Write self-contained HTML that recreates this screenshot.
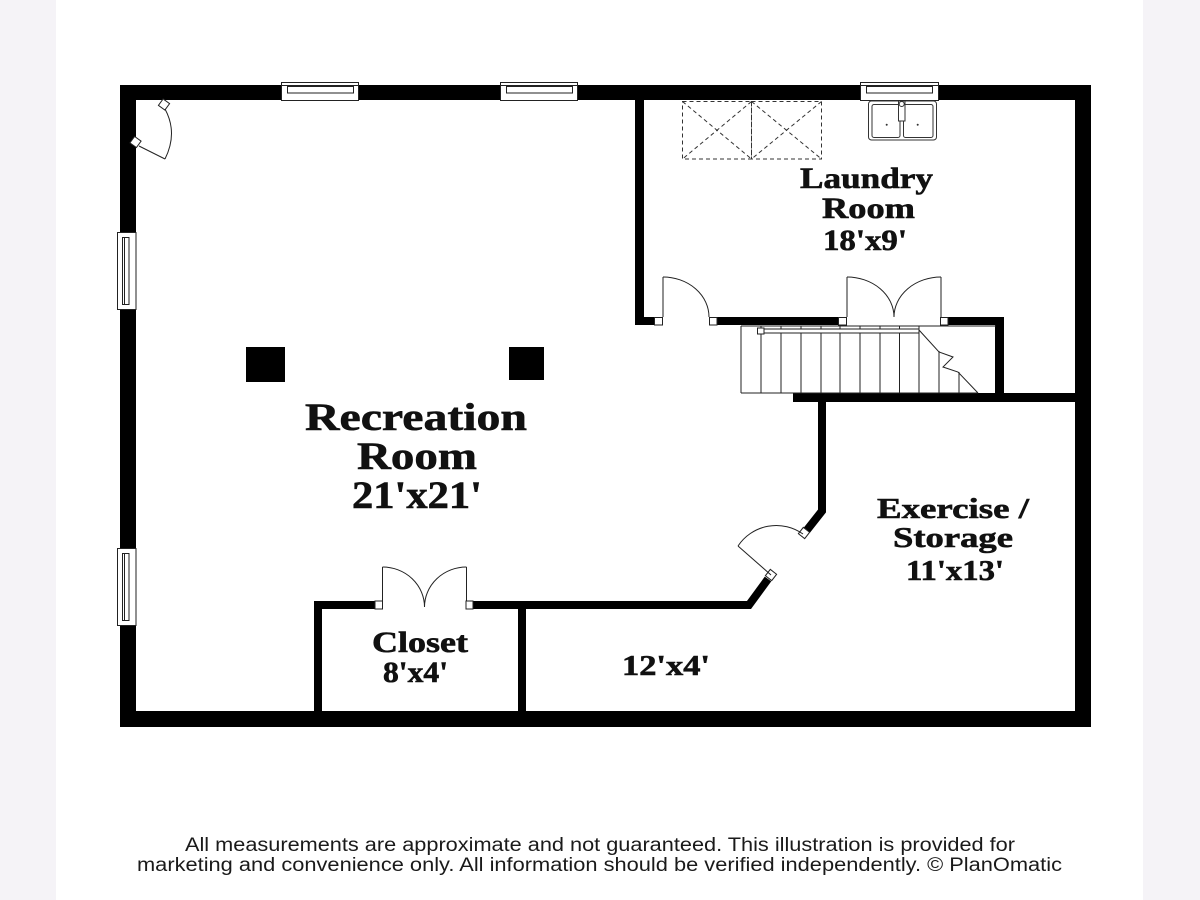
<!DOCTYPE html>
<html><head><meta charset="utf-8"><style>
html,body{margin:0;padding:0;width:1200px;height:900px;overflow:hidden;background:#fff}
svg{display:block}
</style></head><body>
<svg width="1200" height="900" viewBox="0 0 1200 900" xmlns="http://www.w3.org/2000/svg">
<rect x="0" y="0" width="1200" height="900" fill="#fff"/>
<rect x="0" y="0" width="56" height="900" fill="#f5f3f7"/>
<rect x="1143" y="0" width="57" height="900" fill="#f5f3f7"/>

<!-- solid walls -->
<g fill="#000">
<rect x="120" y="85" width="971" height="15"/>
<rect x="120" y="85" width="16" height="642"/>
<rect x="1075" y="85" width="16" height="642"/>
<rect x="120" y="711" width="971" height="16"/>
<rect x="635" y="100" width="9" height="225"/>
<rect x="635" y="317" width="19" height="8"/>
<rect x="717" y="317" width="121" height="8"/>
<rect x="948" y="317" width="56" height="8"/>
<rect x="995" y="317" width="9" height="85"/>
<rect x="793" y="393" width="282" height="9"/>
</g>
<g fill="none" stroke="#000" stroke-width="8" stroke-linejoin="miter">
<polyline points="822,398 822,511 807,530"/>
<polyline points="768,579 749,605 473,605"/>
<polyline points="375,605 318,605 318,715"/>
<line x1="522" y1="605" x2="522" y2="715"/>
</g>

<!-- windows -->
<g fill="#fff" stroke="#222" stroke-width="1">
<rect x="281.5" y="82.5" width="77" height="18"/>
<line x1="281.5" y1="85.5" x2="358.5" y2="85.5"/>
<rect x="287.5" y="86.5" width="66" height="6.5"/>
<rect x="500.5" y="82.5" width="77" height="18"/>
<line x1="500.5" y1="85.5" x2="577.5" y2="85.5"/>
<rect x="506.5" y="86.5" width="66" height="6.5"/>
<rect x="860.5" y="82.5" width="78" height="18"/>
<line x1="860.5" y1="85.5" x2="938.5" y2="85.5"/>
<rect x="866.5" y="86.5" width="66" height="6.5"/>

<rect x="117.5" y="232.5" width="18.5" height="77"/>
<rect x="122.5" y="237.5" width="6.5" height="67"/>
<line x1="124.5" y1="237.5" x2="124.5" y2="304.5"/>
<rect x="117.5" y="548.5" width="18.5" height="77"/>
<rect x="122.5" y="553.5" width="6.5" height="67"/>
<line x1="124.5" y1="553.5" x2="124.5" y2="620.5"/>
</g>

<!-- jambs -->
<g fill="#fff" stroke="#222" stroke-width="1">
<rect x="654.5" y="317.5" width="8" height="7.5"/>
<rect x="709.5" y="317.5" width="7.5" height="7.5"/>
<rect x="838.5" y="317.5" width="8" height="7.5"/>
<rect x="940.5" y="317.5" width="7.5" height="7.5"/>
<rect x="375" y="601" width="7.5" height="8"/>
<rect x="466" y="601" width="7" height="8"/>
<rect x="-4" y="-4" width="8" height="8" transform="translate(804,533) rotate(-52)"/>
<rect x="-4" y="-4" width="8" height="8" transform="translate(771,575) rotate(-52)"/>
<rect x="-4" y="-4" width="8" height="8" transform="translate(164,104.5) rotate(36)"/>
<rect x="-4" y="-4" width="8" height="8" transform="translate(135.5,142) rotate(36)"/>
</g>

<!-- doors -->
<g fill="none" stroke="#222" stroke-width="1">
<line x1="663" y1="277" x2="663" y2="317"/>
<path d="M663 277 A46 40 0 0 1 709 317"/>
<line x1="847" y1="277" x2="847" y2="317"/>
<path d="M847 277 A47 40 0 0 1 894 317"/>
<line x1="941" y1="277" x2="941" y2="317"/>
<path d="M941 277 A47 40 0 0 0 894 317"/>
<line x1="382.5" y1="567" x2="382.5" y2="601"/>
<path d="M382.5 567 A42 40 0 0 1 424.5 607"/>
<line x1="466.5" y1="567" x2="466.5" y2="601"/>
<path d="M466.5 567 A42 40 0 0 0 424.5 607"/>
<line x1="771" y1="575" x2="738" y2="546"/>
<path d="M738 546 A46 46 0 0 1 803 534"/>
<line x1="139" y1="146" x2="165" y2="159"/>
<path d="M165 159 Q178 133 165 109"/>
</g>

<!-- washer / dryer -->
<g fill="none" stroke="#333" stroke-width="1" stroke-dasharray="4 3">
<rect x="682.5" y="101.5" width="69" height="57.5"/>
<rect x="751.5" y="101.5" width="70" height="57.5"/>
<line x1="682.5" y1="101.5" x2="751.5" y2="159"/>
<line x1="751.5" y1="101.5" x2="682.5" y2="159"/>
<line x1="751.5" y1="101.5" x2="821.5" y2="159"/>
<line x1="821.5" y1="101.5" x2="751.5" y2="159"/>
</g>

<!-- sink -->
<g fill="#fff" stroke="#333" stroke-width="1">
<rect x="868.5" y="101" width="68" height="39" rx="3"/>
<rect x="872" y="104.5" width="28" height="33" rx="2"/>
<rect x="903.5" y="104.5" width="29.5" height="33" rx="2"/>
<rect x="898.5" y="101" width="6.5" height="20"/>
<circle cx="901.7" cy="104" r="2.5"/>
</g>
<circle cx="886.7" cy="124.7" r="1" fill="#333"/>
<circle cx="917.7" cy="124.7" r="1" fill="#333"/>

<!-- stairs -->
<g fill="none" stroke="#222" stroke-width="1">
<line x1="741" y1="326" x2="996" y2="326"/>
<line x1="741" y1="326" x2="741" y2="393"/>
<line x1="741" y1="393" x2="978" y2="393"/>
<line x1="761" y1="326" x2="761" y2="393"/>
<line x1="781" y1="326" x2="781" y2="393"/>
<line x1="801" y1="326" x2="801" y2="393"/>
<line x1="821" y1="326" x2="821" y2="393"/>
<line x1="840" y1="326" x2="840" y2="393"/>
<line x1="860" y1="326" x2="860" y2="393"/>
<line x1="880" y1="326" x2="880" y2="393"/>
<line x1="899.5" y1="326" x2="899.5" y2="393"/>
<line x1="919" y1="326" x2="919" y2="393"/>
<line x1="939" y1="351" x2="939" y2="393"/>
<line x1="959" y1="372" x2="959" y2="393"/>
<polyline points="919,330 939,352 953,357 943,367 958,372 978,393"/>
<rect x="758.5" y="329" width="160.5" height="4" fill="#fff"/>
<rect x="757.5" y="328" width="6.5" height="6" fill="#fff"/>
</g>

<!-- pillars -->
<rect x="246" y="347" width="39" height="35" fill="#000"/>
<rect x="509" y="347" width="35" height="33" fill="#000"/>

<!-- room labels -->
<g font-family="'Liberation Serif', 'DejaVu Serif', serif" font-weight="bold" fill="#111" stroke="#111" stroke-width="0.6">
<text x="305" y="430" font-size="39" textLength="222" lengthAdjust="spacingAndGlyphs">Recreation</text>
<text x="357" y="469" font-size="39" textLength="120" lengthAdjust="spacingAndGlyphs">Room</text>
<text x="352" y="508" font-size="39" textLength="130" lengthAdjust="spacingAndGlyphs">21'x21'</text>

<text x="800" y="188" font-size="30" textLength="133" lengthAdjust="spacingAndGlyphs">Laundry</text>
<text x="822" y="218" font-size="30" textLength="93" lengthAdjust="spacingAndGlyphs">Room</text>
<text x="823" y="250" font-size="30" textLength="84" lengthAdjust="spacingAndGlyphs">18'x9'</text>

<text x="877" y="518" font-size="29" textLength="152" lengthAdjust="spacingAndGlyphs">Exercise /</text>
<text x="893" y="547" font-size="29" textLength="120" lengthAdjust="spacingAndGlyphs">Storage</text>
<text x="906" y="580" font-size="29" textLength="98" lengthAdjust="spacingAndGlyphs">11'x13'</text>

<text x="622" y="675" font-size="28" textLength="88" lengthAdjust="spacingAndGlyphs">12'x4'</text>

<text x="372" y="652" font-size="30" textLength="96" lengthAdjust="spacingAndGlyphs">Closet</text>
<text x="383" y="682" font-size="30" textLength="65" lengthAdjust="spacingAndGlyphs">8'x4'</text>
</g>

<!-- footer -->
<g font-family="'Liberation Sans', Arial, sans-serif" font-size="19" fill="#1a1a1a">
<text x="185" y="851" textLength="830" lengthAdjust="spacingAndGlyphs">All measurements are approximate and not guaranteed. This illustration is provided for</text>
<text x="137" y="871" textLength="925" lengthAdjust="spacingAndGlyphs">marketing and convenience only. All information should be verified independently. © PlanOmatic</text>
</g>
</svg>
</body></html>
